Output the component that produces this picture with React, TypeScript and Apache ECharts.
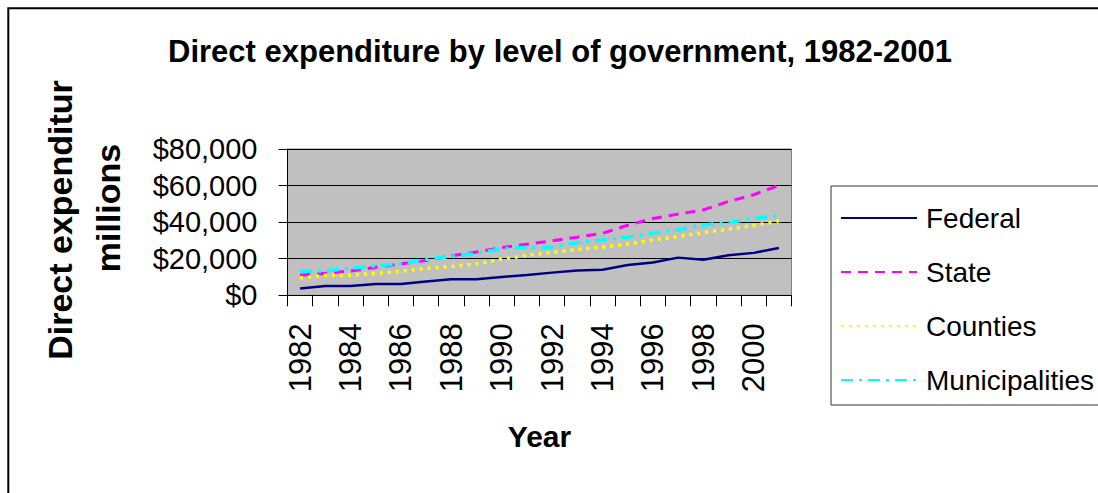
import React, { useEffect, useRef } from "react";
import * as echarts from "echarts";

const years = ["1982","1983","1984","1985","1986","1987","1988","1989","1990","1991","1992","1993","1994","1995","1996","1997","1998","1999","2000","2001"];
const federal = [3700, 5100, 5100, 6200, 6200, 7500, 8800, 8800, 10000, 11100, 12400, 13500, 14000, 16600, 17900, 20600, 19400, 21900, 23200, 25900];
const state = [11000, 12050, 13300, 15300, 17200, 19000, 21600, 23700, 26100, 27900, 29800, 31800, 33900, 38300, 42000, 44400, 46700, 51300, 55000, 60100];
const counties = [9500, 11000, 11000, 12000, 13100, 14800, 15700, 17200, 19700, 21900, 23400, 25200, 26300, 28100, 30300, 32100, 34300, 36200, 38200, 40700];
const municipalities = [13100, 13300, 14800, 16100, 17200, 19700, 21200, 23000, 25400, 26300, 26300, 28900, 30300, 31800, 34000, 35800, 38500, 39800, 42000, 43500];

const FONT = "'Liberation Sans', Arial, sans-serif";

export default function App() {
  const ref = useRef<HTMLDivElement>(null);
  useEffect(() => {
    document.body.style.margin = "0";
    document.body.style.overflow = "hidden";
    const chart = echarts.init(ref.current!, null, { renderer: "svg" });
    const mk = (name: string, data: number[], color: string, type: any, width: number) => ({
      name,
      type: "line",
      data,
      symbol: "none",
      lineStyle: { color, type, width },
      itemStyle: { color },
    });
    chart.setOption({
      animation: false,
      backgroundColor: "#ffffff",
      textStyle: { fontFamily: FONT },
      title: {
        text: "Direct expenditure by level of government, 1982-2001",
        left: 555,
        top: 31,
        textAlign: "center",
        textStyle: { fontFamily: FONT, fontSize: 31, fontWeight: "bold", color: "#000" },
      },
      grid: {
        left: 287.5,
        top: 149,
        right: 306.5,
        bottom: 197.7,
        show: true,
        backgroundColor: "#c0c0c0",
        borderColor: "#808080",
        borderWidth: 1,
      },
      legend: {
        orient: "vertical",
        left: 831,
        top: 186,
        padding: [18, 40, 11, 9],
        itemGap: 26,
        itemWidth: 76,
        itemHeight: 14,
        borderColor: "#333",
        borderWidth: 1,
        itemStyle: { opacity: 0, borderWidth: 0 },
        textStyle: { fontFamily: FONT, fontSize: 28, lineHeight: 28, color: "#000", padding: [0, 0, 0, 4] },
        data: ["Federal", "State", "Counties", "Municipalities"],
      },
      xAxis: {
        type: "category",
        data: years,
        boundaryGap: true,
        name: "Year",
        nameLocation: "middle",
        nameGap: 126,
        nameTextStyle: { fontFamily: FONT, fontSize: 30, fontWeight: "bold", color: "#000", verticalAlign: "top" },
        axisLine: { lineStyle: { color: "#000", width: 1 } },
        axisTick: { show: true, interval: 0, length: 11, inside: false, lineStyle: { color: "#000" } },
        axisLabel: { interval: 1, rotate: 90, margin: 28, fontFamily: FONT, fontSize: 31, color: "#000" },
        splitLine: { show: false },
      },
      yAxis: {
        type: "value",
        min: 0,
        max: 80000,
        interval: 20000,
        axisLine: { show: true, lineStyle: { color: "#000", width: 1 } },
        axisTick: { show: true, length: 9, lineStyle: { color: "#000" } },
        axisLabel: {
          margin: 30,
          fontFamily: FONT,
          fontSize: 29,
          color: "#000",
          formatter: (v: number) => "$" + v.toLocaleString("en-US"),
        },
        splitLine: { show: true, lineStyle: { color: "#000", width: 1 } },
      },
      graphic: [
        {
          type: "rect",
          shape: { x: 8.3, y: 8.3, width: 3000, height: 3000 },
          style: { fill: "none", stroke: "#000", lineWidth: 2 },
          silent: true,
        },
        {
          type: "text",
          x: 60.4,
          y: 220,
          rotation: Math.PI / 2,
          style: { text: "Direct expenditur", font: `bold 34px ${FONT}`, fill: "#000", align: "center", verticalAlign: "middle" },
        },
        {
          type: "text",
          x: 108.4,
          y: 208,
          rotation: Math.PI / 2,
          style: { text: "millions", font: `bold 34px ${FONT}`, fill: "#000", align: "center", verticalAlign: "middle" },
        },
      ],
      series: [
        mk("Federal", federal, "#000080", "solid", 2.5),
        mk("State", state, "#ff00ff", [10, 7], 3),
        mk("Counties", counties, "#ffff00", [3, 5], 3.5),
        mk("Municipalities", municipalities, "#00ffff", [12, 6, 3, 6], 3.5),
      ],
    });
    return () => chart.dispose();
  }, []);
  return <div ref={ref} style={{ width: 1098, height: 493 }} />;
}
